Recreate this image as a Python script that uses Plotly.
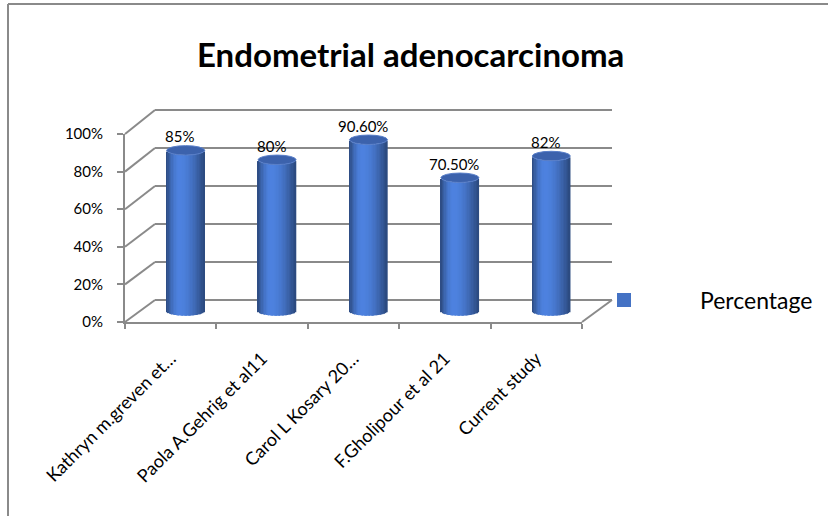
import numpy as np
import plotly.graph_objects as go

# ---- data -------------------------------------------------------------
studies = [
    "Kathryn m.greven et…",
    "Paola A.Gehrig et al11",
    "Carol L Kosary 20…",
    "F.Gholipour et al 21",
    "Current study",
]
percentages = [85, 80, 90.6, 70.5, 82]
value_labels = ["85%", "80%", "90.60%", "70.50%", "82%"]
y_ticks = [0, 20, 40, 60, 80, 100]
y_tick_text = ["0%", "20%", "40%", "60%", "80%", "100%"]
series_name = "Percentage"
chart_title = "Endometrial adenocarcinoma"

# ---- page / 3-D box geometry (pixels) ---------------------------------
W, H = 828, 516
FONT = "Lato"
GRID = "#8a8a8a"

# front plane (axes), middle plane (cylinders), back wall (gridlines)
front = dict(x0=125, x1=582, base=322, ppu=1.88)
mid = dict(x0=140, x1=597, base=311, ppu=1.89)
back = dict(x0=155, x1=612, base=300, ppu=1.90)

CYL_W = 0.416      # cylinder diameter in category units
CAP_D = 2.5        # half height of the elliptic caps, in value units
N_STRIPS = 28      # vertical strips used to shade each cylinder
MID_PAD = 8        # value room below 0 / above 100 on the cylinder plane


def px(x):
    return x / W


def py(y):
    return 1 - y / H


def ydomain(plane, lo, hi):
    bottom = plane["base"] - lo * plane["ppu"]
    top = plane["base"] - hi * plane["ppu"]
    return [py(bottom), py(top)]


def plane_y(plane, t):
    return py(plane["base"] - t * plane["ppu"])


fig = go.Figure()

# ---- cylinders: shaded vertical strips ------------------------------------
base_rgb = np.array([68, 114, 196])


def shade(u):
    t = (u + 0.3) / (0.7 if u < -0.3 else 1.3)
    f = 0.64 + 0.5 * np.cos(np.clip(t, -1, 1) * np.pi / 2)
    c = np.clip(base_rgb * f, 0, 255).astype(int)
    return f"rgb({c[0]},{c[1]},{c[2]})"


xs = list(range(len(studies)))
strip_w = CYL_W / N_STRIPS
for k in range(N_STRIPS):
    u = -1 + (2 * k + 1) / N_STRIPS
    sag = CAP_D * np.sqrt(max(0.0, 1 - u * u))
    w = strip_w * 1.25
    fig.add_trace(go.Bar(
        x=xs, y=percentages, base=[-sag] * len(xs),
        width=[w] * len(xs), offset=[u * CYL_W / 2 - w / 2] * len(xs),
        marker=dict(color=shade(u), line=dict(width=0)),
        xaxis="x", yaxis="y", showlegend=False, hoverinfo="skip",
        name=series_name,
    ))

# invisible trace registering the categories on the front axis
fig.add_trace(go.Scatter(
    x=studies, y=percentages, mode="markers",
    marker=dict(opacity=0), xaxis="x2", yaxis="y2",
    showlegend=False, hoverinfo="skip",
))

shapes = []

# elliptic tops of the cylinders
for i, v in enumerate(percentages):
    shapes.append(dict(
        type="circle", xref="x", yref="y", layer="above",
        x0=i - CYL_W / 2, x1=i + CYL_W / 2, y0=v - CAP_D, y1=v + CAP_D,
        fillcolor="rgb(60,98,172)", line=dict(color="rgb(88,126,200)", width=1),
    ))

grid_line = dict(color=GRID, width=2)
for t in y_ticks:
    # back-wall gridline
    shapes.append(dict(
        type="line", xref="paper", yref="paper", layer="below",
        x0=px(back["x0"]), x1=px(back["x1"]),
        y0=plane_y(back, t), y1=plane_y(back, t), line=grid_line,
    ))
    # side-wall gridline joining the front axis to the back wall
    shapes.append(dict(
        type="line", xref="paper", yref="paper", layer="below",
        x0=px(front["x0"]), y0=plane_y(front, t),
        x1=px(back["x0"]), y1=plane_y(back, t), line=grid_line,
    ))
# right edge of the floor
shapes.append(dict(
    type="line", xref="paper", yref="paper", layer="below",
    x0=px(front["x1"]), y0=plane_y(front, 0),
    x1=px(back["x1"]), y1=plane_y(back, 0), line=grid_line,
))

# chart frame
shapes.append(dict(type="line", xref="paper", yref="paper",
                   x0=px(8), y0=py(4), x1=px(8), y1=0, line=grid_line))
shapes.append(dict(type="line", xref="paper", yref="paper",
                   x0=px(8), y0=py(4), x1=1, y1=py(4), line=grid_line))

# legend key
shapes.append(dict(type="rect", xref="paper", yref="paper",
                   x0=px(617), x1=px(631), y0=py(307), y1=py(293),
                   fillcolor="#4472C4", line=dict(width=0)))

annotations = []
for i, (v, lab) in enumerate(zip(percentages, value_labels)):
    annotations.append(dict(
        x=i, y=v, xref="x", yref="y", text=lab, showarrow=False,
        yshift=14, xshift=-6, font=dict(family=FONT, size=15, color="black"),
    ))

annotations.append(dict(
    x=px(410), y=py(54), xref="paper", yref="paper", text=f"<b>{chart_title}</b>",
    showarrow=False, xanchor="center", yanchor="middle",
    font=dict(family=FONT, size=33, color="black"),
))
annotations.append(dict(
    x=px(698), y=py(300), xref="paper", yref="paper", text=series_name,
    showarrow=False, xanchor="left", yanchor="middle",
    font=dict(family=FONT, size=23, color="black"),
))

hidden = dict(showgrid=False, zeroline=False, showticklabels=False,
              showline=False, ticks="", fixedrange=True, automargin=False)

fig.update_layout(
    width=W, height=H,
    margin=dict(l=0, r=0, t=0, b=0, autoexpand=False),
    paper_bgcolor="white", plot_bgcolor="rgba(0,0,0,0)",
    barmode="overlay", showlegend=False,
    font=dict(family=FONT, size=15, color="black"),
    shapes=shapes, annotations=annotations,
    # cylinder plane
    xaxis=dict(domain=[px(mid["x0"]), px(mid["x1"])], range=[-0.5, 4.5],
               anchor="y", **hidden),
    yaxis=dict(domain=ydomain(mid, -MID_PAD, 100 + MID_PAD),
               range=[-MID_PAD, 100 + MID_PAD], anchor="x", **hidden),
    # front axes
    xaxis2=dict(domain=[px(front["x0"]), px(front["x1"])], type="category",
                categoryarray=studies, range=[-0.5, 4.5], anchor="y2",
                showline=True, linecolor=GRID, linewidth=2,
                ticks="outside", tickson="boundaries", ticklen=5,
                tickcolor=GRID, tickwidth=2, tickangle=-45,
                ticklabelstandoff=17,
                showgrid=False, zeroline=False, fixedrange=True,
                automargin=False,
                tickfont=dict(family=FONT, size=18, color="black")),
    yaxis2=dict(domain=ydomain(front, 0, 100), range=[0, 100], anchor="x2",
                tickmode="array", tickvals=y_ticks, ticktext=y_tick_text,
                showline=True, linecolor=GRID, linewidth=2,
                ticks="outside", ticklen=6, tickcolor=GRID, tickwidth=2,
                ticklabelstandoff=11, showgrid=False, zeroline=False,
                fixedrange=True, automargin=False,
                tickfont=dict(family=FONT, size=15, color="black")),
)

fig.write_html("out.html", config={"displayModeBar": False})
